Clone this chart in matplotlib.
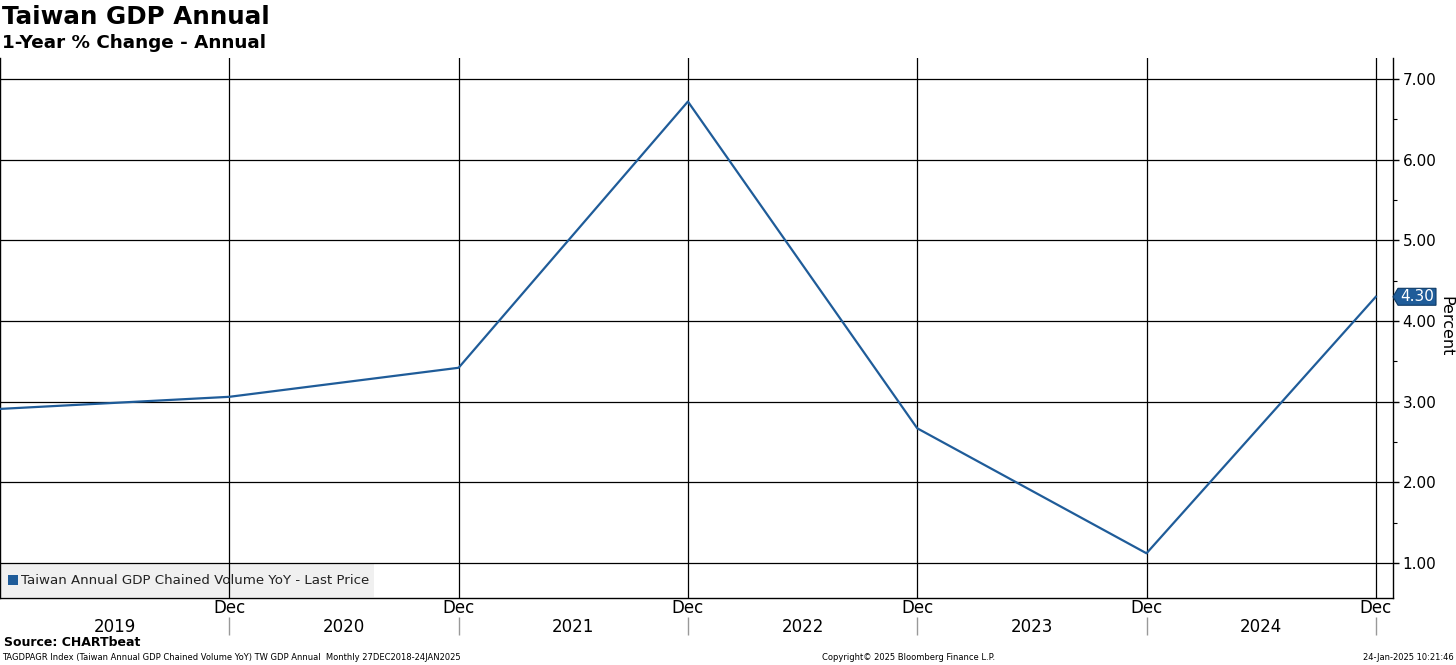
import numpy as np
import matplotlib
matplotlib.use("Agg")
import matplotlib.pyplot as plt
import matplotlib.transforms as mtransforms
from matplotlib.patches import Polygon, Rectangle

# data: Taiwan annual GDP, 1-year % change (Dec of each year)
years = [2018, 2019, 2020, 2021, 2022, 2023, 2024]
gdp_yoy = [2.91, 3.06, 3.42, 6.72, 2.67, 1.12, 4.30]
year_labels = ['2019', '2020', '2021', '2022', '2023', '2024']
y_ticks = [1.0, 2.0, 3.0, 4.0, 5.0, 6.0, 7.0]

blue = '#1f5c99'
plt.rcParams['font.family'] = 'DejaVu Sans'

fig = plt.figure(figsize=(14.56, 6.65), dpi=100)
W, H = 1456, 665
ax = fig.add_axes([0 / W, (H - 598) / H, 1393 / W, 540 / H])

x = np.array(years) - years[0]
ax.plot(x, gdp_yoy, color=blue, lw=1.6, zorder=3)

ax.set_xlim(0, 6.075)
ax.set_ylim(0.566, 7.26)

# grid
for v in y_ticks:
    ax.axhline(v, color='black', lw=0.9, zorder=1)
for v in x[1:]:
    ax.axvline(v, color='black', lw=0.9, zorder=1)

# spines / ticks
ax.spines['top'].set_visible(False)
for s in ['left', 'right', 'bottom']:
    ax.spines[s].set_linewidth(1.0)
ax.yaxis.tick_right()
ax.set_yticks(y_ticks)
ax.set_yticklabels(['%.2f' % v for v in y_ticks], fontsize=11)
ax.set_yticks(np.arange(1.5, 7.0, 1.0), minor=True)
ax.tick_params(axis='y', which='major', direction='out', length=4, width=1, pad=3)
ax.tick_params(axis='y', which='minor', direction='out', length=3, width=0.8)
ax.set_xticks(x[1:])
ax.set_xticklabels(['Dec'] * 6, fontsize=12)
ax.tick_params(axis='x', length=0, pad=1)

# year labels and separators under axis
trans = mtransforms.blended_transform_factory(ax.transData, ax.transAxes)
for i, lab in enumerate(year_labels):
    ax.text(x[i] + 0.5, -0.053, lab, transform=trans, ha='center', va='center', fontsize=12)
ax.vlines(x[1:], -0.036, -0.069, transform=trans, color='#999999', lw=1, clip_on=False)

# right label
fig.text(1446 / W, 1 - 326 / H, 'Percent', rotation=270, ha='center', va='center', fontsize=11.5)

# last price tag
ftrans = mtransforms.blended_transform_factory(fig.transFigure, ax.transData)
last = gdp_yoy[-1]
tag = Polygon([(1393 / W, last), (1398 / W, last + 0.105), (1436 / W, last + 0.105),
               (1436 / W, last - 0.105), (1398 / W, last - 0.105)],
              closed=True, transform=ftrans, facecolor=blue, edgecolor='#0e3a66',
              lw=0.8, clip_on=False, zorder=5)
ax.add_patch(tag)
ax.text(1417 / W, last, '%.2f' % last, transform=ftrans, ha='center', va='center',
        color='white', fontsize=11, zorder=6, clip_on=False)

# legend box
ax.add_patch(Rectangle((0, 0.002), 374 / 1393, 0.063, transform=ax.transAxes,
                       facecolor='#f0f0f0', edgecolor='none', zorder=0.5))
ax.add_patch(Rectangle((8 / 1393, (598 - 585) / 540), 10 / 1393, 10 / 540,
                       transform=ax.transAxes, facecolor=blue, edgecolor='none', zorder=4))
ax.text(21 / 1393, (598 - 580) / 540, 'Taiwan Annual GDP Chained Volume YoY - Last Price',
        transform=ax.transAxes, ha='left', va='center', fontsize=9.6, color='#222222', zorder=4)

# titles
fig.text(2 / W, 1 - 17 / H, 'Taiwan GDP Annual', fontsize=17.7, fontweight='bold', va='center', ha='left')
fig.text(2 / W, 1 - 43 / H, '1-Year % Change - Annual', fontsize=13.2, fontweight='bold', va='center', ha='left')

# footer
fig.text(4 / W, 1 - 642 / H, 'Source: CHARTbeat', fontsize=9, fontweight='bold', va='center', ha='left')
fig.text(2 / W, 1 - 658 / H,
         'TAGDPAGR Index (Taiwan Annual GDP Chained Volume YoY) TW GDP Annual  Monthly 27DEC2018-24JAN2025',
         fontsize=6.0, va='center', ha='left')
fig.text(909 / W, 1 - 658 / H, 'Copyright\u00a9 2025 Bloomberg Finance L.P.', fontsize=6.0, va='center', ha='center')
fig.text(1454 / W, 1 - 658 / H, '24-Jan-2025 10:21:46', fontsize=6.0, va='center', ha='right')

fig.savefig('out.png', dpi=100)
